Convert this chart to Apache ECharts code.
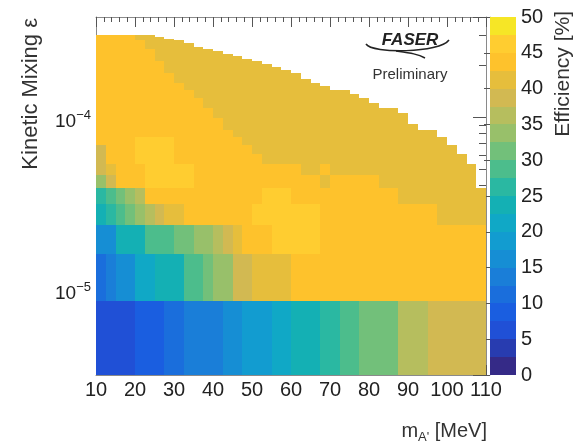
<!DOCTYPE html>
<html><head><meta charset="utf-8">
<script src="https://cdn.jsdelivr.net/npm/echarts@6/dist/echarts.min.js"></script>
<style>html,body{margin:0;padding:0;background:#fff}#c{width:577px;height:444px}</style>
</head><body><div id="c"></div>
<script>
// ---------------- data ----------------
// mass bins: 40 bins of 2.5 MeV from 10 to 110
const massMin = 10, massBinWidth = 2.5, nMassBins = 40;
// epsilon bins: linear bins of 7.5e-6 starting at 1e-6
const epsStart = 1e-6, epsBinWidth = 7.5e-6;

// efficiency [%] of the lowest seven epsilon rows, one value per mass bin
const row0 = [6,6,6,6,9,9,9,11,11,14,14,14,14,16,16,19,19,19,21,21,24,24,24,26,26,29,29,31,31,31,31,35,35,35,39,39,39,39,39,39];
const row1 = [11,14,16,16,21,21,24,24,24,29,29,31,34,34,39,39,41,41,41,41,44,44,44,44,44,44,44,44,44,44,44,44,44,44,44,44,44,44,44,44];
const row2 = [17,17,24,24,24,29,29,29,31,31,34,34,36,39,41,44,44,44,46,46,46,46,46,44,44,44,44,44,44,44,44,44,44,44,44,44,44,44,44,44];
const row3 = [24,26,29,31,34,36,39,41,41,44,44,44,44,44,44,44,46,46,46,46,46,46,46,44,44,44,44,44,44,44,44,44,44,44,44,41,41,41,41,41];
const row4 = [26,29,31,34,36,44,44,44,44,44,44,44,44,44,44,44,44,46,46,46,44,44,44,44,44,44,44,44,44,44,44,41,41,41,41,41,41,41,41,41];
const row5 = [34,39,44,44,44,46,46,46,46,46,44,44,44,44,44,44,44,44,44,44,44,44,44,41,44,44,44,44,44,41,41,41,41,41,41,41,41,41,41,41];
const row6 = [39,41,44,44,44,46,46,46,46,46,44,44,44,44,44,44,44,44,44,44,44,41,41,44,41,41,41,41,41,41,41,41,41,41,41,41,41,41,41,41];
const lowRows = [row0,row1,row2,row3,row4,row5,row6];

// upper rows (7..39): inner (orange) region up to this mass, outer (gold) region beyond
const upperOrangeEnd = [52.5,50,47.5,45,42.5,42.5,40,40,37.5,37.5,35,35,32.5,32.5,30,30,30,27.5,27.5,27.5,27.5,25,25,25,25,25,22.5,22.5,22.5,22.5,20,20,20];
const upperInner = 44, upperOuter = 41;
// patches in the upper rows: [rowFrom,rowTo,binFrom,binTo,value]
const upperPatches = [[7,8,0,0,39],[7,9,4,7,46]];
// number of filled epsilon rows per mass bin (upper edge of the sensitive region)
const topRowCount = [40,40,40,40,40,40,39,38,37,36,34,33,32,31,30,29,28,27,26,25,24,22,21,20,19,19,18,17,16,15,15,14,12,11,11,10,9,8,7,5];

// axes
const epsAxisMin = 3.162e-6, epsAxisMax = 3.814e-4;
const minorEps = [4e-6,5e-6,6e-6,7e-6,8e-6,9e-6,2e-5,3e-5,4e-5,5e-5,6e-5,7e-5,8e-5,9e-5,2e-4,3e-4];
const zLevels = [0,2.5,5,7.5,10,12.5,15,17.5,20,22.5,25,27.5,30,32.5,35,37.5,40,42.5,45,47.5,50];
const zColors = ['#352a87','#283cb0','#2050d6','#1a5ee0','#1a6edc','#1a7ed8','#168ed4','#129cd0','#10a8c6','#14b0b4',
                 '#2ab8a2','#4cbd8c','#72c07a','#98c06a','#b6be5e','#d2b952','#e6be3c','#fec22c','#ffcd30','#f6e626'];

// ---------------- build ----------------
const FONT = '"Liberation Sans", Arial, Helvetica, sans-serif';
const massEdges = []; for (let i = 0; i <= nMassBins; i++) massEdges.push(massMin + i * massBinWidth);
const epsEdges = []; for (let k = 0; k <= 40; k++) epsEdges.push(epsStart + k * epsBinWidth);

function cellValue(k, c) {
  if (k < lowRows.length) return lowRows[k][c];
  for (const p of upperPatches) if (k >= p[0] && k <= p[1] && c >= p[2] && c <= p[3]) return p[4];
  return massEdges[c + 1] <= upperOrangeEnd[k - lowRows.length] + 1e-9 ? upperInner : upperOuter;
}
const cells = [];
for (let c = 0; c < nMassBins; c++)
  for (let k = 0; k < topRowCount[c]; k++)
    cells.push([massEdges[c], massEdges[c + 1], epsEdges[k], epsEdges[k + 1], cellValue(k, c)]);

const barCells = [];
for (let j = 0; j < zLevels.length - 1; j++) barCells.push([0, 1, zLevels[j], zLevels[j + 1], (zLevels[j] + zLevels[j + 1]) / 2]);
const pieces = zColors.map((col, j) => j === zColors.length - 1
  ? {gte: zLevels[j], lte: zLevels[j + 1], color: col}
  : {gte: zLevels[j], lt: zLevels[j + 1], color: col});

function renderCell(params, api) {
  const p0 = api.coord([api.value(0), api.value(3)]);
  const p1 = api.coord([api.value(1), api.value(2)]);
  const x0 = Math.round(p0[0]), x1 = Math.round(p1[0]);
  const y0 = Math.round(p0[1]), y1 = Math.round(p1[1]);
  const cs = params.coordSys;
  const shape = echarts.graphic.clipRectByRect({x: x0, y: y0, width: x1 - x0, height: y1 - y0},
    {x: cs.x, y: cs.y, width: cs.width, height: cs.height});
  return shape && {type: 'rect', shape: shape, style: {fill: api.visual('color')}};
}

const frame = {show: true, onZero: false, lineStyle: {color: '#8a8a8a', width: 1}};
const tickStyle = {color: '#555', width: 1};
function yLabel(v) {
  const e = Math.log10(v), r = Math.round(e);
  if (Math.abs(e - r) > 0.01) return '';
  return '{b|10}{s|\u2212' + (-r) + '}';
}

const chart = echarts.init(document.getElementById('c'), null, {renderer: 'canvas', width: 577, height: 444});
chart.setOption({
  animation: false,
  backgroundColor: '#fff',
  textStyle: {fontFamily: FONT},
  grid: [
    {left: 96, top: 17, width: 390, height: 358},
    {left: 490, top: 17, width: 26, height: 358}
  ],
  xAxis: [
    {gridIndex: 0, type: 'value', min: 10, max: 110, interval: 10, position: 'bottom',
     axisLine: frame, axisTick: {inside: true, length: 10, lineStyle: tickStyle},
     minorTick: {show: true, splitNumber: 5, length: 5, lineStyle: tickStyle},
     splitLine: {show: false}, minorSplitLine: {show: false},
     axisLabel: {fontSize: 20, color: '#222', margin: 5, fontFamily: FONT}},
    {gridIndex: 0, type: 'value', min: 10, max: 110, interval: 10, position: 'top',
     axisLine: frame, axisTick: {inside: true, length: 10, lineStyle: tickStyle},
     minorTick: {show: true, splitNumber: 5, length: 5, lineStyle: tickStyle},
     splitLine: {show: false}, minorSplitLine: {show: false}, axisLabel: {show: false}},
    {gridIndex: 1, type: 'value', min: 0, max: 1, show: false}
  ],
  yAxis: [
    {gridIndex: 0, type: 'log', logBase: 10, min: epsAxisMin, max: epsAxisMax, position: 'left',
     axisLine: frame, axisTick: {inside: true, length: 13, lineStyle: tickStyle}, splitLine: {show: false},
     axisLabel: {formatter: yLabel, margin: 5, showMinLabel: false, showMaxLabel: false, color: '#222',
       padding: [10, 0, 0, 0],
       rich: {b: {fontSize: 19, lineHeight: 26, fontFamily: FONT, color: '#222'},
              s: {fontSize: 13, lineHeight: 13, verticalAlign: 'top', fontFamily: FONT, color: '#222'}}}},
    {gridIndex: 0, type: 'value', min: Math.log10(epsAxisMin), max: Math.log10(epsAxisMax), position: 'left',
     axisLine: {show: false}, splitLine: {show: false}, axisLabel: {show: false},
     axisTick: {inside: true, length: 7, lineStyle: tickStyle, customValues: minorEps.map(Math.log10)}},
    {gridIndex: 0, type: 'log', logBase: 10, min: epsAxisMin, max: epsAxisMax, position: 'right',
     axisLine: frame, axisTick: {inside: true, length: 13, lineStyle: tickStyle}, splitLine: {show: false},
     axisLabel: {show: false}},
    {gridIndex: 0, type: 'value', min: Math.log10(epsAxisMin), max: Math.log10(epsAxisMax), position: 'right',
     axisLine: {show: false}, splitLine: {show: false}, axisLabel: {show: false},
     axisTick: {inside: true, length: 7, lineStyle: tickStyle, customValues: minorEps.map(Math.log10)}},
    {gridIndex: 1, type: 'value', min: 0, max: 50, interval: 5, position: 'right',
     axisLine: {show: true, lineStyle: {color: '#bbb'}}, splitLine: {show: false},
     axisTick: {inside: true, length: 6, lineStyle: tickStyle},
     axisLabel: {fontSize: 20, color: '#222', margin: 5, fontFamily: FONT}}
  ],
  visualMap: {type: 'piecewise', show: false, dimension: 4, seriesIndex: [0, 1], pieces: pieces},
  series: [
    {type: 'custom', xAxisIndex: 0, yAxisIndex: 0, renderItem: renderCell, data: cells,
     encode: {x: [0, 1], y: [2, 3]}, silent: true, z: 1},
    {type: 'custom', xAxisIndex: 2, yAxisIndex: 4, renderItem: renderCell, data: barCells,
     encode: {x: [0, 1], y: [2, 3]}, silent: true, z: 1}
  ],
  graphic: [
    {type: 'text', x: 31, y: 18, rotation: Math.PI / 2,
     style: {text: 'Kinetic Mixing \u03b5', fontSize: 22, fontFamily: FONT, fill: '#333', align: 'right', verticalAlign: 'middle'}},
    {type: 'text', x: 563, y: 11, rotation: Math.PI / 2,
     style: {text: 'Efficiency [%]', fontSize: 21, fontFamily: FONT, fill: '#333', align: 'right', verticalAlign: 'middle'}},
    {type: 'text', x: 487, y: 431,
     style: {text: '{m|m}{s|A\'}{t| [MeV]}', align: 'right', verticalAlign: 'middle', fill: '#333',
       rich: {m: {fontSize: 20, lineHeight: 26, fontFamily: FONT, color: '#333'},
              s: {fontSize: 13, lineHeight: 14, verticalAlign: 'bottom', fontFamily: FONT, color: '#333'},
              t: {fontSize: 20, lineHeight: 26, fontFamily: FONT, color: '#333'}}}},
    {type: 'text', x: 410, y: 40,
     style: {text: 'FASER', fontSize: 17, fontStyle: 'italic', fontWeight: 'bold', fontFamily: FONT, fill: '#222', align: 'center', verticalAlign: 'middle'}},
    {type: 'bezierCurve', shape: {x1: 366, y1: 44, cpx1: 372, cpy1: 54, cpx2: 440, cpy2: 53, x2: 449, y2: 40},
     style: {stroke: '#222', lineWidth: 1.5, fill: null}},
    {type: 'bezierCurve', shape: {x1: 396, y1: 51, cpx1: 410, cpy1: 53, cpx2: 418, cpy2: 54, x2: 425, y2: 58},
     style: {stroke: '#222', lineWidth: 1.5, fill: null}},
    {type: 'text', x: 410, y: 75,
     style: {text: 'Preliminary', fontSize: 15, fontFamily: FONT, fill: '#333', align: 'center', verticalAlign: 'middle'}}
  ]
});
</script></body></html>
